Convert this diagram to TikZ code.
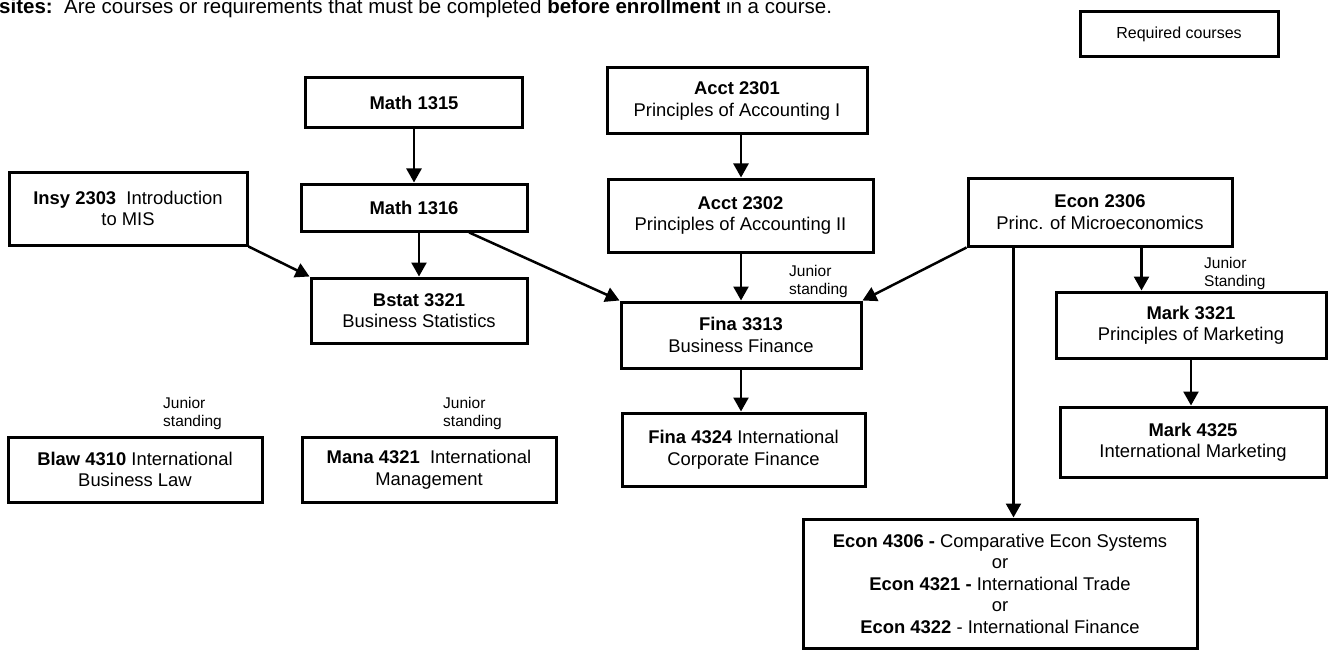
\documentclass[tikz,border=0pt]{standalone}
\usepackage{fontspec}
\setmainfont{Liberation Sans}
\usetikzlibrary{arrows.meta}
\begin{document}
\begin{tikzpicture}[x=1pt,y=-1pt,
  course/.style={draw, line width=3pt, align=center, inner sep=0pt, font=\fontsize{18.4}{21.5}\selectfont},
  arr/.style={line width=2.5pt, -{Triangle[length=14pt,width=15pt]}},
  junior/.style={align=left, anchor=west, inner sep=0pt, font=\fontsize{15.5}{18}\selectfont}]
\useasboundingbox (0,0) rectangle (1328,650);

\node[anchor=base west, inner sep=0pt, font=\fontsize{20.5}{24}\selectfont] (hdr) at (-1,14)
  {\textbf{sites:}\ \ Are courses or requirements that must be completed \textbf{before enrollment} in a course.};

\node[course, minimum width=198pt, minimum height=45pt, font=\fontsize{16}{19}\selectfont] (req) at (1179,34.5) {Required courses};

\node[course, minimum width=217pt, minimum height=50pt] (m1315) at (414,103) {\textbf{Math 1315}};
\node[course, minimum width=226pt, minimum height=47pt] (m1316) at (414,207.5) {\textbf{Math 1316}};
\node[course, minimum width=216pt, minimum height=65pt] (bstat) at (419,310.5) {\textbf{Bstat 3321}\\Business Statistics};
\node[course, minimum width=238pt, minimum height=73pt] (insy) at (128,208.5) {\textbf{Insy 2303}\ \ Introduction\\to MIS};
\node[course, minimum width=260pt, minimum height=66pt] (acct1) at (737,101) {\textbf{Acct 2301}\\Principles of Accounting I};
\node[course, minimum width=265pt, minimum height=73pt] (acct2) at (740.5,215.5) {\textbf{Acct 2302}\\Principles of Accounting II};
\node[course, minimum width=240pt, minimum height=66pt] (fina) at (741,335) {\textbf{Fina 3313}\\Business Finance};
\node[course, minimum width=264pt, minimum height=68pt] (econ) at (1100,212) {\textbf{Econ 2306}\\Princ. of Microeconomics};
\node[course, minimum width=270pt, minimum height=66pt] (mark1) at (1191,325) {\textbf{Mark 3321}\\Principles of Marketing};
\node[course, minimum width=266pt, minimum height=70pt] (mark2) at (1193,442) {\textbf{Mark 4325}\\International Marketing};
\node[course, minimum width=243pt, minimum height=73pt] (fina2) at (743.5,449.5) {\textbf{Fina 4324} International\\Corporate Finance};
\node[course, minimum width=254pt, minimum height=65pt] (blaw) at (135,469.5) {\textbf{Blaw 4310} International\\Business Law};
\node[course, minimum width=254pt, minimum height=65pt] (mana) at (429,469.5) {\textbf{Mana 4321}\ \ International\\Management};
\node[course, minimum width=394pt, minimum height=129pt] (econ4) at (1000,583.5)
  {\textbf{Econ 4306 -} Comparative Econ Systems\\or\\\textbf{Econ 4321 -} International Trade\\or\\\textbf{Econ 4322} - International Finance};

\node[junior] (j1) at (789,281) {Junior\\standing};
\node[junior] (j2) at (1204,273) {Junior\\Standing};
\node[junior] (j3) at (163,413.5) {Junior\\standing};
\node[junior] (j4) at (443,413.5) {Junior\\standing};

\coordinate (e4) at ([xshift=47pt]econ.south west);
\coordinate (em) at ([xshift=175pt]econ.south west);

\draw[arr] (m1315) -- (m1316);
\draw[arr] (m1316.south -| bstat.north) -- (bstat.north);
\draw[arr] (m1316) -- (fina.north west);
\draw[arr] (insy.south east) -- (bstat.north west);
\draw[arr] (acct1.south -| fina.north) -- (acct2.north -| fina.north);
\draw[arr] (acct2.south -| fina.north) -- (fina.north);
\draw[arr] (fina.south) -- (fina.south |- fina2.north);
\draw[arr] (econ.south west) -- (fina.north east);
\draw[arr] (e4) -- (e4 |- econ4.north);
\draw[arr] (em) -- (em |- mark1.north);
\draw[arr] (mark1.south) -- (mark1.south |- mark2.north);
\end{tikzpicture}
\end{document}
